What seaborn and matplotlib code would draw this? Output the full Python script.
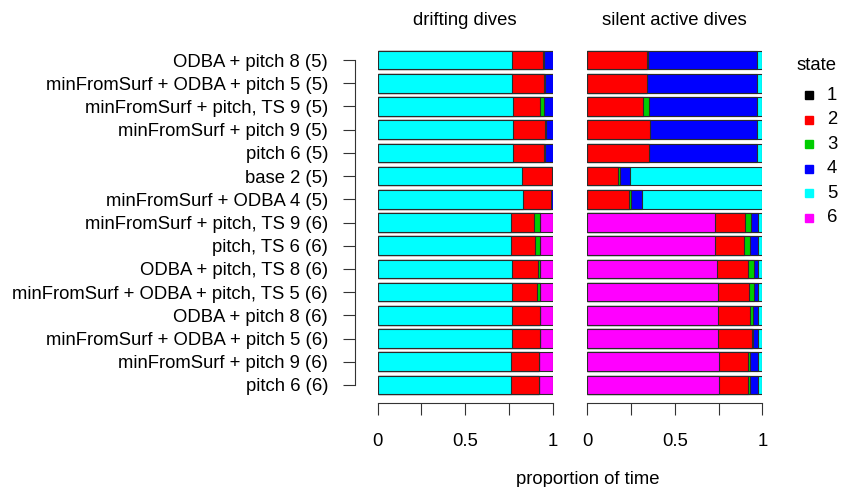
import matplotlib
matplotlib.use("Agg")
import matplotlib.pyplot as plt
import seaborn as sns
import numpy as np
from matplotlib.lines import Line2D

models = [
    "ODBA + pitch 8 (5)",
    "minFromSurf + ODBA + pitch 5 (5)",
    "minFromSurf + pitch, TS 9 (5)",
    "minFromSurf + pitch 9 (5)",
    "pitch 6 (5)",
    "base 2 (5)",
    "minFromSurf + ODBA 4 (5)",
    "minFromSurf + pitch, TS 9 (6)",
    "pitch, TS 6 (6)",
    "ODBA + pitch, TS 8 (6)",
    "minFromSurf + ODBA + pitch, TS 5 (6)",
    "ODBA + pitch 8 (6)",
    "minFromSurf + ODBA + pitch 5 (6)",
    "minFromSurf + pitch 9 (6)",
    "pitch 6 (6)",
]
states = ["1", "2", "3", "4", "5", "6"]
state_colors = ["#000000", "#FF0000", "#00CD00", "#0000FF", "#00FFFF", "#FF00FF"]
panel_titles = ["drifting dives", "silent active dives"]
x_ticks = [0, 0.25, 0.5, 0.75, 1]
x_ticklabels = ["0", "", "0.5", "", "1"]

# drifting dives: proportion of time per state
drift_s1 = [0, 0, 0, 0, 0, 0, 0, 0, 0, 0, 0, 0, 0, 0, 0]
drift_s2 = [0.177, 0.179, 0.158, 0.179, 0.175, 0.170, 0.164, 0.130, 0.135, 0.147, 0.143, 0.158, 0.158, 0.156, 0.156]
drift_s3 = [0.005, 0.005, 0.023, 0.004, 0.005, 0, 0, 0.034, 0.027, 0.015, 0.019, 0.004, 0.004, 0, 0]
drift_s4 = [0.047, 0.045, 0.046, 0.040, 0.043, 0.003, 0.007, 0, 0, 0, 0, 0, 0, 0, 0]
drift_s5 = [0.771, 0.771, 0.773, 0.777, 0.777, 0.827, 0.829, 0.762, 0.764, 0.768, 0.768, 0.768, 0.768, 0.764, 0.764]
drift_s6 = [0, 0, 0, 0, 0, 0, 0, 0.074, 0.074, 0.070, 0.070, 0.070, 0.070, 0.080, 0.080]

# silent active dives: proportion of time per state
silent_s1 = [0, 0, 0, 0, 0, 0, 0, 0, 0, 0, 0, 0, 0, 0, 0]
silent_s2 = [0.340, 0.340, 0.321, 0.358, 0.354, 0.176, 0.241, 0.170, 0.166, 0.178, 0.180, 0.185, 0.193, 0.170, 0.170]
silent_s3 = [0.004, 0, 0.031, 0, 0, 0.011, 0.010, 0.033, 0.031, 0.033, 0.027, 0.013, 0.008, 0.008, 0.008]
silent_s4 = [0.627, 0.631, 0.620, 0.614, 0.618, 0.059, 0.063, 0.040, 0.046, 0.023, 0.023, 0.029, 0.027, 0.046, 0.046]
silent_s5 = [0.029, 0.029, 0.028, 0.028, 0.028, 0.754, 0.686, 0.027, 0.027, 0.026, 0.026, 0.027, 0.026, 0.026, 0.026]
silent_s6 = [0, 0, 0, 0, 0, 0, 0, 0.730, 0.730, 0.740, 0.744, 0.746, 0.746, 0.750, 0.750]

drift = {"1": drift_s1, "2": drift_s2, "3": drift_s3, "4": drift_s4, "5": drift_s5, "6": drift_s6}
silent = {"1": silent_s1, "2": silent_s2, "3": silent_s3, "4": silent_s4, "5": silent_s5, "6": silent_s6}
drift_order = ["5", "1", "2", "3", "4", "6"]
silent_order = ["6", "1", "2", "3", "4", "5"]

sns.set_style("ticks")
plt.rcParams["font.family"] = ["Liberation Sans", "DejaVu Sans"]
FS = 13.3
plt.rcParams["font.size"] = FS
plt.rcParams["text.color"] = "black"
plt.rcParams["xtick.labelcolor"] = "black"
plt.rcParams["ytick.labelcolor"] = "black"

W, H = 842, 487
fig = plt.figure(figsize=(W / 100, H / 100), dpi=100)

def fx(px):
    return px / W

def fy(py):
    return 1 - py / H

ax_top, ax_bot = 48.4, 396.6
axL = fig.add_axes([fx(377.5), fy(ax_bot), fx(175), (ax_bot - ax_top) / H])
axR = fig.add_axes([fx(587.3), fy(ax_bot), fx(175), (ax_bot - ax_top) / H])

cmap = dict(zip(states, state_colors))

for ax, data, order in [(axL, drift, drift_order), (axR, silent, silent_order)]:
    vals = np.array([data[s] for s in order])
    cum = np.cumsum(vals, axis=0)
    for i in range(len(order) - 1, -1, -1):
        if i > 0 and np.allclose(vals[i], 0):
            continue
        sns.barplot(x=cum[i], y=models, orient="h", color=cmap[order[i]],
                    saturation=1, width=0.8, edgecolor="#2b2b2b", linewidth=0.8,
                    ax=ax)
    ax.set_xlim(0, 1)
    ax.set_ylim(len(models) - 0.5, -0.5)
    ax.set_xlabel("")
    ax.set_ylabel("")
    ax.set_xticks(x_ticks)
    ax.set_xticklabels(x_ticklabels)
    for sp in ["top", "right"]:
        ax.spines[sp].set_visible(False)
    ax.spines["bottom"].set_position(("outward", 4.8))
    ax.spines["bottom"].set_bounds(0, 1)
    ax.spines["bottom"].set_color("#333333")
    ax.tick_params(axis="x", length=8.5, width=0.8, color="#333333", pad=13,
                   labelsize=FS, labelcolor="black")
    ax.grid(False)

axL.spines["left"].set_position(("outward", 16.5))
axL.spines["left"].set_bounds(0, len(models) - 1)
axL.spines["left"].set_color("#333333")
axL.tick_params(axis="y", length=8.5, width=0.8, color="#333333", pad=10.5,
                labelsize=FS, labelcolor="black")
axR.spines["left"].set_visible(False)
axR.tick_params(axis="y", left=False, labelleft=False)

fig.text(fx(464.5), fy(20.7), panel_titles[0], ha="center", va="center", fontsize=FS, color="black")
fig.text(fx(674), fy(20.7), panel_titles[1], ha="center", va="center", fontsize=FS, color="black")
fig.text(fx(588), fy(479), "proportion of time", ha="center", va="center", fontsize=FS, color="black")

# legend drawn at fixed positions
fig.text(fx(817), fy(66), "state", ha="center", va="center", fontsize=FS, color="black")
for i, (s, c) in enumerate(zip(states, state_colors)):
    yy = fy(95 + 24.6 * i)
    fig.add_artist(Line2D([fx(809)], [yy], transform=fig.transFigure, marker="s",
                          linestyle="", color=c, markersize=5.2))
    fig.text(fx(832), yy, s, ha="center", va="center", fontsize=FS, color="black")

fig.savefig("out.png", dpi=100)
